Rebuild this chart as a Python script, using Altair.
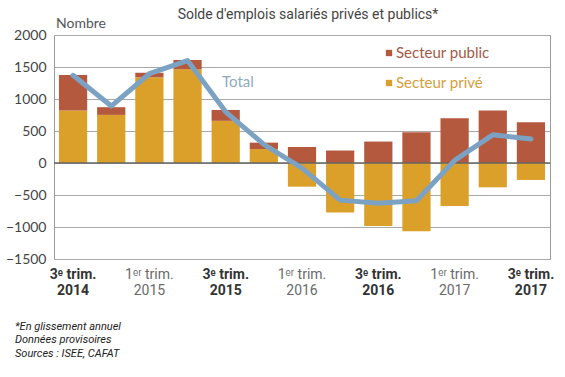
import altair as alt
import pandas as pd

quarters = ["T3 2014", "T4 2014", "T1 2015", "T2 2015", "T3 2015", "T4 2015",
            "T1 2016", "T2 2016", "T3 2016", "T4 2016", "T1 2017", "T2 2017", "T3 2017"]
public = [555, 120, 70, 145, 170, 100, 250, 195, 335, 480, 700, 820, 635]
private = [820, 752, 1340, 1464, 659, 218, -370, -775, -985, -1065, -670, -380, -265]
total = [1370, 890, 1395, 1600, 800, 290, -80, -580, -630, -590, 40, 440, 375]

label_quarters = ["T3 2014", "T1 2015", "T3 2015", "T1 2016", "T3 2016", "T1 2017", "T3 2017"]
label_line1 = ["3ᵉ trim.", "1ᵉʳ trim.", "3ᵉ trim.", "1ᵉʳ trim.", "3ᵉ trim.", "1ᵉʳ trim.", "3ᵉ trim."]
label_line2 = ["2014", "2015", "2015", "2016", "2016", "2017", "2017"]
label_bold = [True, False, True, False, True, False, True]

footnotes = ["*En glissement annuel", "Données provisoires", "Sources : ISEE, CAFAT"]
title_text = "Solde d'emplois salariés privés et publics*"
y_ticks = [-1500, -1000, -500, 0, 500, 1000, 1500, 2000]

C_PUB = "#B4583E"
C_PRIV = "#DBA02A"
C_LINE = "#7CA2C3"
NARROW = "Roboto, sans-serif"
HUMAN = "Lato, 'Open Sans', sans-serif"

rows = []
for q, pu, pr in zip(quarters, public, private):
    rows.append({"q": q, "sector": "Secteur privé", "ord": 0, "v": pr})
    rows.append({"q": q, "sector": "Secteur public", "ord": 1, "v": pu})
bars_df = pd.DataFrame(rows)
line_df = pd.DataFrame({"q": quarters, "total": total})
lab_df = pd.DataFrame({"q": label_quarters, "l1": label_line1, "l2": label_line2, "bold": label_bold})

xenc = alt.X("q:N", sort=quarters, axis=None,
             scale=alt.Scale(domain=quarters, paddingInner=0.26, paddingOuter=0.13))
yscale = alt.Scale(domain=[-1500, 2000], nice=False, zero=False)
yaxis = alt.Axis(values=y_ticks, format="d", title=None, grid=True,
                 gridColor="#a8a8a8", gridWidth=1, tickSize=0, domain=False,
                 labelPadding=8, labelOverlap=False, labelFlush=False,
                 labelFont=HUMAN, labelFontSize=14, labelColor="#444444")

bars = alt.Chart(bars_df).mark_bar().encode(
    x=xenc,
    y=alt.Y("v:Q", stack="zero", scale=yscale, axis=yaxis),
    color=alt.Color("sector:N", scale=alt.Scale(domain=["Secteur privé", "Secteur public"],
                                                range=[C_PRIV, C_PUB]), legend=None),
    order=alt.Order("ord:Q"),
)

zero = alt.Chart(pd.DataFrame({"z": [0]})).mark_rule(color="#666666", strokeWidth=1.5).encode(
    y=alt.Y("z:Q", scale=yscale, axis=yaxis))

line = alt.Chart(line_df).mark_line(color=C_LINE, strokeWidth=5, strokeCap="round",
                                    strokeJoin="round").encode(
    x=xenc, y=alt.Y("total:Q", scale=yscale, axis=yaxis))

FS_X = 14
lab_bold = alt.Chart(lab_df).transform_filter("datum.bold").mark_text(
    font=NARROW, fontSize=FS_X, fontWeight="bold", color="#333333", baseline="middle").encode(
    x=xenc, text="l1:N", y=alt.value(240))
lab_bold2 = alt.Chart(lab_df).transform_filter("datum.bold").mark_text(
    font=NARROW, fontSize=FS_X, fontWeight="bold", color="#333333", baseline="middle").encode(
    x=xenc, text="l2:N", y=alt.value(256))
lab_light = alt.Chart(lab_df).transform_filter("!datum.bold").mark_text(
    font=NARROW, fontSize=FS_X, color="#6a6a6a", baseline="middle").encode(
    x=xenc, text="l1:N", y=alt.value(240))
lab_light2 = alt.Chart(lab_df).transform_filter("!datum.bold").mark_text(
    font=NARROW, fontSize=FS_X, color="#6a6a6a", baseline="middle").encode(
    x=xenc, text="l2:N", y=alt.value(256))

leg_df = pd.DataFrame({"t": ["Secteur public", "Secteur privé"], "c": [C_PUB, C_PRIV],
                       "tc": ["#A35A4A", "#D4A03A"], "py": [18, 48]})
leg_sq = alt.Chart(leg_df).mark_square(size=40, opacity=1, filled=True).encode(
    x=alt.value(335), y=alt.Y("py:Q", scale=None), color=alt.Color("c:N", scale=None))
leg_tx = alt.Chart(leg_df).mark_text(font=HUMAN, fontSize=15, align="left", baseline="middle").encode(
    x=alt.value(342), y=alt.Y("py:Q", scale=None), text="t:N", color=alt.Color("tc:N", scale=None))

total_lbl = alt.Chart(pd.DataFrame({"t": ["Total"]})).mark_text(
    font=HUMAN, fontSize=15, color="#8FA9C2", align="left", baseline="middle").encode(
    x=alt.value(168), y=alt.value(47), text="t:N")

nombre = alt.Chart(pd.DataFrame({"t": ["Nombre"]})).mark_text(
    font=HUMAN, fontSize=14, color="#555555", align="left", baseline="middle").encode(
    x=alt.value(2), y=alt.value(-11), text="t:N")

title = alt.Chart(pd.DataFrame({"t": [title_text]})).mark_text(
    font=NARROW, fontSize=14, color="#444444", align="center", baseline="middle").encode(
    x=alt.value(254), y=alt.value(-20), text="t:N")

foot_df = pd.DataFrame({"t": footnotes, "py": [292, 305, 319]})
foot = alt.Chart(foot_df).mark_text(
    font=NARROW, fontSize=11, fontStyle="italic", color="#222222", align="left",
    baseline="middle").encode(
    x=alt.value(-39), y=alt.Y("py:Q", scale=None), text="t:N")

chart = alt.layer(bars, zero, line, lab_bold, lab_bold2, lab_light, lab_light2,
                  leg_sq, leg_tx, total_lbl, nombre, title, foot).properties(
    width=496, height=224,
    autosize=alt.AutoSizeParams(type="none"),
    padding={"left": 54, "top": 35, "right": 15, "bottom": 118},
    background="white",
).configure_view(stroke="#9a9a9a", strokeWidth=1)

chart.save("out.html", embed_options={"renderer": "svg", "actions": False})
